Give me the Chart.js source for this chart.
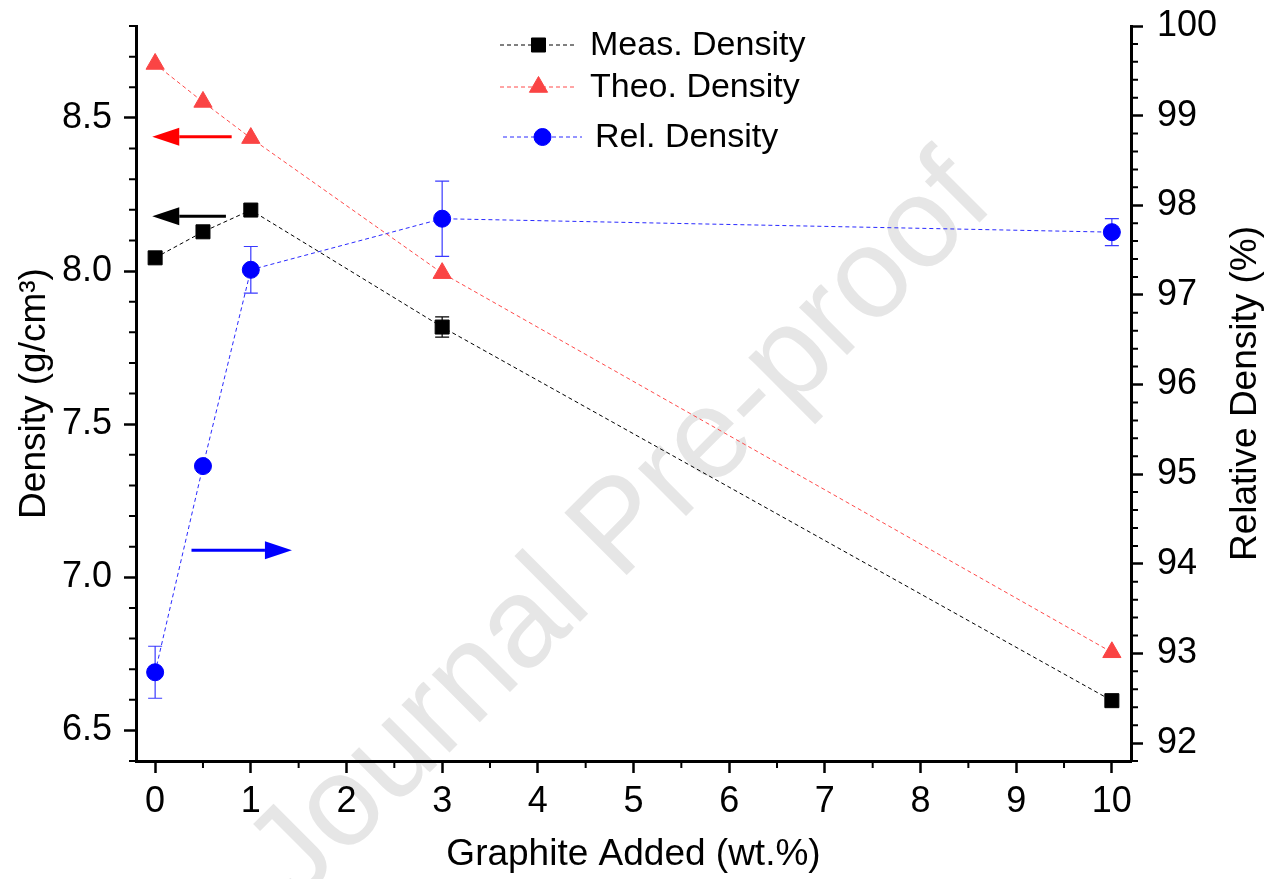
<!DOCTYPE html>
<html>
<head>
<meta charset="utf-8">
<script src="https://cdn.jsdelivr.net/npm/chart.js@4.4.1/dist/chart.umd.min.js"></script>
<style>
  html, body { margin: 0; padding: 0; background: #fff; }
  #wrap { width: 1277px; height: 879px; position: relative; }
</style>
</head>
<body>
<div id="wrap"><canvas id="grafico"></canvas></div>
<script>
// dados
const graphite = [0, 0.5, 1, 3, 10];
const measDensity = [8.043, 8.128, 8.199, 7.817, 6.597];
const measErr = [0, 0, 0, 0.033, 0];
const theoDensity = [8.676, 8.552, 8.434, 7.993, 6.755];
const relDensity = [92.79, 95.09, 97.28, 97.85, 97.70];
const relErr = [0.29, 0.05, 0.26, 0.42, 0.15];

const xTicks = [0, 1, 2, 3, 4, 5, 6, 7, 8, 9, 10];
const yTicks = [6.5, 7.0, 7.5, 8.0, 8.5];
const y1Ticks = [92, 93, 94, 95, 96, 97, 98, 99, 100];

// setas indicando o eixo de cada série
const arrows = [
  { y: 8.438, from: 0.80, to: -0.03, color: '#ff0000' },
  { y: 8.179, from: 0.74, to: -0.03, color: '#000000' },
  { y: 7.088, from: 0.38, to: 1.43, color: '#0000ff' }
];

const FONT = "'Liberation Sans', Arial, sans-serif";

const pts = (ys) => graphite.map((x, i) => ({ x: x, y: ys[i] }));

// barras de erro, marca d'água, ticks menores, setas e legenda
const extras = {
  id: 'extras',
  beforeDraw(chart) {
    const c = chart.ctx;
    c.save();
    c.fillStyle = '#fff';
    c.fillRect(0, 0, chart.width, chart.height);
    c.translate(622, 530);
    c.rotate(-45 * Math.PI / 180);
    c.font = '128px ' + FONT;
    c.fillStyle = '#e6e6e6';
    c.textAlign = 'center';
    c.textBaseline = 'middle';
    c.fillText('Journal Pre-proof', 0, 0);
    c.restore();
  },
  beforeDatasetsDraw(chart) {
    const c = chart.ctx;
    const x = chart.scales.x;
    const sets = [
      { vals: measDensity, err: measErr, scale: chart.scales.y, color: '#000' },
      { vals: relDensity, err: relErr, scale: chart.scales.y1, color: '#3a3aff' }
    ];
    c.save();
    c.lineWidth = 1.2;
    sets.forEach(s => {
      c.strokeStyle = s.color;
      s.vals.forEach((v, i) => {
        if (!s.err[i]) return;
        const px = x.getPixelForValue(graphite[i]);
        const top = s.scale.getPixelForValue(v + s.err[i]);
        const bot = s.scale.getPixelForValue(v - s.err[i]);
        c.beginPath();
        c.moveTo(px, top); c.lineTo(px, bot);
        c.moveTo(px - 7, top); c.lineTo(px + 7, top);
        c.moveTo(px - 7, bot); c.lineTo(px + 7, bot);
        c.stroke();
      });
    });
    c.restore();
  },
  afterDraw(chart) {
    const c = chart.ctx;
    const { x, y, y1 } = chart.scales;
    c.save();
    // ticks menores
    c.strokeStyle = '#000';
    c.lineWidth = 2;
    c.beginPath();
    for (let v = -0.5; v <= 10.5; v += 1) {
      if (v < x.min || v > x.max) continue;
      const px = x.getPixelForValue(v);
      c.moveTo(px, x.top); c.lineTo(px, x.top + 7);
    }
    for (let k = 64; k <= 88; k++) {
      if (k % 5 === 0) continue;
      const py = y.getPixelForValue(k / 10);
      c.moveTo(y.right, py); c.lineTo(y.right - 7, py);
    }
    for (let k = 459; k <= 500; k++) {
      if (k % 5 === 0) continue;
      const py = y1.getPixelForValue(k / 5);
      c.moveTo(y1.left, py); c.lineTo(y1.left + 7, py);
    }
    c.stroke();

    // título do eixo direito (lido de baixo para cima)
    c.save();
    c.translate(1246, (chart.chartArea.top + chart.chartArea.bottom) / 2);
    c.rotate(-Math.PI / 2);
    c.font = '37px ' + FONT;
    c.fillStyle = '#000';
    c.textAlign = 'center';
    c.textBaseline = 'middle';
    c.fillText('Relative Density (%)', 0, 0);
    c.restore();

    // setas
    arrows.forEach(a => {
      const py = y.getPixelForValue(a.y);
      const x0 = x.getPixelForValue(a.from);
      const x1 = x.getPixelForValue(a.to);
      const dir = x1 > x0 ? 1 : -1;
      const base = x1 - dir * 27;
      c.strokeStyle = a.color;
      c.fillStyle = a.color;
      c.lineWidth = 3;
      c.beginPath();
      c.moveTo(x0, py); c.lineTo(base, py);
      c.stroke();
      c.beginPath();
      c.moveTo(x1, py);
      c.lineTo(base, py - 9);
      c.lineTo(base, py + 9);
      c.closePath();
      c.fill();
    });

    // legenda
    const rows = [
      { ds: 0, y: 45, x0: 500, x1: 577, tx: 590 },
      { ds: 1, y: 87, x0: 500, x1: 577, tx: 590 },
      { ds: 2, y: 137, x0: 503, x1: 582, tx: 595 }
    ];
    rows.forEach(r => {
      const ds = chart.data.datasets[r.ds];
      c.strokeStyle = ds.borderColor;
      c.lineWidth = 1;
      c.setLineDash(ds.borderDash);
      c.beginPath();
      c.moveTo(r.x0, r.y); c.lineTo(r.x1, r.y);
      c.stroke();
      c.setLineDash([]);
      c.fillStyle = ds.pointBackgroundColor;
      c.strokeStyle = ds.pointBackgroundColor;
      Chart.helpers.drawPoint(c, {
        pointStyle: ds.pointStyle, radius: ds.pointRadius, rotation: 0, borderWidth: 1
      }, (r.x0 + r.x1) / 2, r.y);
      c.fillStyle = '#000';
      c.font = '34px ' + FONT;
      c.textAlign = 'left';
      c.textBaseline = 'middle';
      c.fillText(ds.label, r.tx, r.y + 1);
    });
    c.restore();
  }
};

const tickFont = { family: FONT, size: 36 };
const titleFont = { family: FONT, size: 37 };

const ctx = document.getElementById('grafico').getContext('2d');
const myChart = new Chart(ctx, {
  type: 'line',
  data: {
    datasets: [
      {
        label: 'Meas. Density',
        data: pts(measDensity),
        yAxisID: 'y',
        borderColor: '#000000',
        borderWidth: 1,
        borderDash: [4, 3],
        pointStyle: 'rect',
        pointRadius: 9.9,
        pointBackgroundColor: '#000000',
        pointBorderColor: '#000000',
        pointBorderWidth: 1
      },
      {
        label: 'Theo. Density',
        data: pts(theoDensity),
        yAxisID: 'y',
        borderColor: '#ff4a4a',
        borderWidth: 1,
        borderDash: [4, 3],
        pointStyle: 'triangle',
        pointRadius: 10.5,
        pointBackgroundColor: '#fa4444',
        pointBorderColor: '#fa4444',
        pointBorderWidth: 1
      },
      {
        label: 'Rel. Density',
        data: pts(relDensity),
        yAxisID: 'y1',
        borderColor: '#2a2aff',
        borderWidth: 1,
        borderDash: [4, 3],
        pointStyle: 'circle',
        pointRadius: 8.5,
        pointBackgroundColor: '#0000ff',
        pointBorderColor: '#0000ff',
        pointBorderWidth: 1
      }
    ]
  },
  options: {
    responsive: true,
    maintainAspectRatio: false,
    animation: false,
    layout: { padding: { top: 26, left: 0, right: 0, bottom: 0 } },
    plugins: { legend: { display: false }, tooltip: { enabled: false } },
    elements: { line: { tension: 0 } },
    scales: {
      x: {
        type: 'linear',
        min: -0.2,
        max: 10.2,
        afterBuildTicks: s => { s.ticks = xTicks.map(v => ({ value: v })); },
        afterFit: s => { s.height = 118; s.paddingLeft = 0; s.paddingRight = 0; },
        ticks: { font: tickFont, color: '#000', padding: 7, maxRotation: 0, callback: v => String(v) },
        grid: { drawOnChartArea: false, drawTicks: true, tickLength: 12, tickWidth: 2.5, tickColor: '#000' },
        border: { display: true, color: '#000', width: 3 },
        title: { display: true, text: 'Graphite Added (wt.%)', font: titleFont, color: '#000', padding: { top: 0, bottom: 2 } }
      },
      y: {
        type: 'linear',
        position: 'left',
        min: 6.4,
        max: 8.8,
        afterBuildTicks: s => { s.ticks = yTicks.map(v => ({ value: v })); },
        afterFit: s => { s.width = 136; s.paddingTop = 0; s.paddingBottom = 0; },
        ticks: { font: tickFont, color: '#000', padding: 12, callback: v => v.toFixed(1) },
        grid: { drawOnChartArea: false, drawTicks: true, tickLength: 12, tickWidth: 2.5, tickColor: '#000' },
        border: { display: true, color: '#000', width: 3 },
        title: { display: true, text: 'Density (g/cm³)', font: titleFont, color: '#000', padding: { top: 13, bottom: 0 } }
      },
      y1: {
        type: 'linear',
        position: 'right',
        min: 91.8,
        max: 100,
        afterBuildTicks: s => { s.ticks = y1Ticks.map(v => ({ value: v })); },
        afterFit: s => { s.width = 146; s.paddingTop = 0; s.paddingBottom = 0; },
        ticks: { font: tickFont, color: '#000', padding: 14, callback: v => String(v) },
        grid: { drawOnChartArea: false, drawTicks: true, tickLength: 12, tickWidth: 2.5, tickColor: '#000' },
        border: { display: true, color: '#000', width: 3 },
        title: { display: false }
      }
    }
  },
  plugins: [extras]
});
</script>
</body>
</html>
